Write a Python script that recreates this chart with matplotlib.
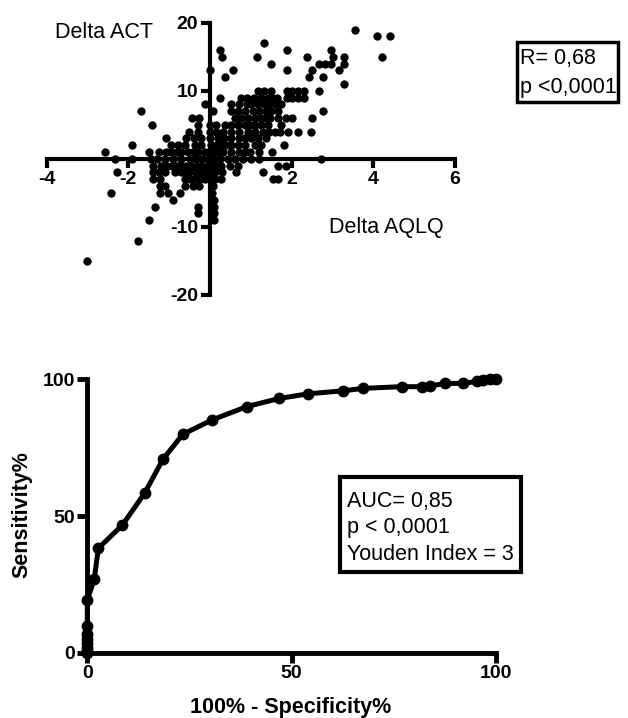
import matplotlib
matplotlib.use("Agg")
import matplotlib.pyplot as plt
from matplotlib.patches import Rectangle

plt.rcParams['font.family'] = ['Liberation Sans', 'DejaVu Sans']
plt.rcParams['axes.unicode_minus'] = False

# scatter: delta ACT (integer rows) vs delta AQLQ
act_rows = [19, 18, 17, 16, 15, 14, 13, 12, 11, 10, 9, 8, 7, 6, 5, 4, 3, 2, 1, 0,
            -1, -2, -3, -4, -5, -6, -7, -8, -9, -12, -15]
aqlq_rows = [
    [3.54],
    [4.10, 4.42],
    [1.31],
    [0.24, 1.88, 2.96],
    [0.29, 1.16, 2.37, 3.02, 3.29, 4.21],
    [1.49, 2.67, 2.82, 2.96, 3.29],
    [0.00, 0.56, 1.88, 2.49, 3.15],
    [0.37, 2.42, 2.76],
    [3.29],
    [1.17, 1.33, 1.49, 1.88, 2.00, 2.15, 2.30, 2.68],
    [0.24, 0.75, 0.91, 1.08, 1.24, 1.41, 1.52, 1.63, 1.88, 2.00, 2.15, 2.30],
    [-0.12, 0.51, 0.72, 0.91, 1.00, 1.17, 1.33, 1.45, 1.58, 1.73],
    [-1.68, 0.07, 0.51, 0.68, 0.85, 1.05, 1.21, 1.37, 1.50, 1.66, 2.76],
    [-0.45, -0.27, 0.60, 0.76, 0.93, 1.09, 1.24, 1.35, 1.46, 1.66, 1.85, 2.02, 2.49],
    [-1.42, -0.29, 0.00, 0.15, 0.36, 0.52, 0.68, 0.85, 0.97, 1.09, 1.24, 1.41, 1.75],
    [-0.52, -0.29, 0.00, 0.15, 0.32, 0.51, 0.72, 0.93, 1.09, 1.29, 1.45, 1.58, 1.72, 1.92,
     2.15, 2.47],
    [-1.08, -0.58, -0.40, -0.22, 0.00, 0.20, 0.35, 0.51, 0.72, 0.86, 1.00, 1.17, 1.37],
    [-1.92, -0.95, -0.78, -0.62, -0.37, -0.22, 0.02, 0.15, 0.27, 0.40, 0.51, 0.68, 0.85,
     1.09, 1.24, 1.82],
    [-2.56, -1.50, -1.24, -1.08, -0.95, -0.82, -0.70, -0.54, -0.42, -0.29, -0.13, 0.07,
     0.20, 0.32, 0.51, 0.70, 0.85, 0.98, 1.20, 1.51],
    [-2.32, -1.90, -1.45, -1.30, -1.10, -0.90, -0.70, -0.50, -0.35, -0.20, -0.05, 0.10, 0.25,
     0.45, 0.60, 0.80, 1.00, 1.20, 2.72],
    [-1.39, -1.19, -1.05, -0.94, -0.80, -0.70, -0.58, -0.46, -0.33, -0.21, -0.08, 0.03, 0.16,
     0.28, 0.48, 0.68, 1.66, 1.86],
    [-2.28, -1.39, -1.25, -1.10, -0.86, -0.72, -0.62, -0.51, -0.37, -0.25, -0.13, 0.00, 0.11,
     0.29, 0.64, 1.29],
    [-1.39, -1.23, -0.62, -0.50, -0.37, -0.25, -0.13, 0.00, 0.11, 0.28, 1.54, 1.66],
    [-1.23, -1.10, -0.62, -0.41, -0.28, 0.08],
    [-2.42, -1.23, -1.02, -0.74, 0.05],
    [-0.90, 0.10],
    [-1.35, -0.30, 0.10],
    [-0.30, 0.10],
    [-1.49, 0.10],
    [-1.77],
    [-3.02],
]

# ROC curve
roc_fpr = [0, 0, 0, 0, 0, 0, 0, 0, 1.7, 2.7, 8.6, 14.1, 18.5, 23.4, 30.5, 39.0, 47.0,
           54.1, 62.7, 67.6, 77.0, 81.9, 83.9, 87.6, 91.9, 95.3, 97.0, 98.6, 100]
roc_sens = [0, 1, 2, 3.5, 5, 7, 9.8, 19.3, 26.8, 38.2, 46.7, 58.5, 70.7, 79.9, 85.1, 90.0, 93.0,
            94.7, 95.8, 96.7, 97.3, 97.3, 97.6, 98.5, 98.5, 99.2, 99.6, 100, 100]

delta_aqlq = []
delta_act = []
for act, xs in zip(act_rows, aqlq_rows):
    for x in xs:
        delta_aqlq.append(x)
        delta_act.append(act)

W, H = 628, 718
fig = plt.figure(figsize=(W / 100, H / 100), dpi=100)


def fx(px):
    return px / W


def fy(py):
    return 1 - py / H


# ---- top: scatter with crossing axes
ax1 = fig.add_axes([fx(46.7), fy(295), fx(455 - 46.7), (295 - 22.7) / H])
ax1.scatter(delta_aqlq, delta_act, s=36, c='black', linewidths=0, zorder=3, clip_on=False)
ax1.set_xlim(-4, 6)
ax1.set_ylim(-20, 20)
for side in ['top', 'right']:
    ax1.spines[side].set_visible(False)
for side in ['left', 'bottom']:
    ax1.spines[side].set_position(('data', 0))
    ax1.spines[side].set_linewidth(3)
ax1.set_xticks([-4, -2, 2, 4, 6])
ax1.set_yticks([-20, -10, 10, 20])
ax1.tick_params(direction='out', length=6.5, width=3, labelsize=14, pad=2)
plt.setp(ax1.get_xticklabels() + ax1.get_yticklabels(), fontweight='bold')
ax1.patch.set_alpha(0)

fig.text(fx(104), fy(33), 'Delta ACT', fontsize=15.5, ha='center', va='center')
fig.text(fx(386), fy(228), 'Delta AQLQ', fontsize=15.5, ha='center', va='center')
fig.patches.append(Rectangle((fx(517), fy(102)), fx(101), 60 / H, transform=fig.transFigure,
                             fill=False, ec='black', lw=2.5))
fig.text(fx(520), fy(64), 'R= 0,68', fontsize=15.5, ha='left', va='baseline')
fig.text(fx(520), fy(93), 'p <0,0001', fontsize=15.5, ha='left', va='baseline')

# ---- bottom: ROC
ax2 = fig.add_axes([fx(87.3), fy(652.7), fx(495.7 - 87.3), (652.7 - 379.3) / H])
ax2.plot(roc_fpr, roc_sens, '-o', color='black', lw=3.6, ms=7.5, zorder=3, clip_on=False)
ax2.set_xlim(0, 100)
ax2.set_ylim(0, 100)
for side in ['top', 'right']:
    ax2.spines[side].set_visible(False)
for side in ['left', 'bottom']:
    ax2.spines[side].set_linewidth(3.5)
ax2.set_xticks([0, 50, 100])
ax2.set_yticks([0, 50, 100])
ax2.tick_params(direction='out', length=7, width=3.5, labelsize=14, pad=2)
plt.setp(ax2.get_xticklabels() + ax2.get_yticklabels(), fontweight='bold')

fig.text(fx(22), fy(515), 'Sensitivity%', fontsize=15.5, fontweight='bold',
         rotation=90, ha='center', va='center')
fig.text(fx(291), fy(708), '100% - Specificity%', fontsize=15.5, fontweight='bold',
         ha='center', va='center')

fig.patches.append(Rectangle((fx(340), fy(572)), fx(181), 95 / H, transform=fig.transFigure,
                             fill=False, ec='black', lw=3))
fig.text(fx(347), fy(507), 'AUC= 0,85', fontsize=15.5, ha='left', va='baseline')
fig.text(fx(347), fy(533), 'p < 0,0001', fontsize=15.5, ha='left', va='baseline')
fig.text(fx(347), fy(560), 'Youden Index = 3', fontsize=15.5, ha='left', va='baseline')

fig.savefig('out.png', dpi=100)
